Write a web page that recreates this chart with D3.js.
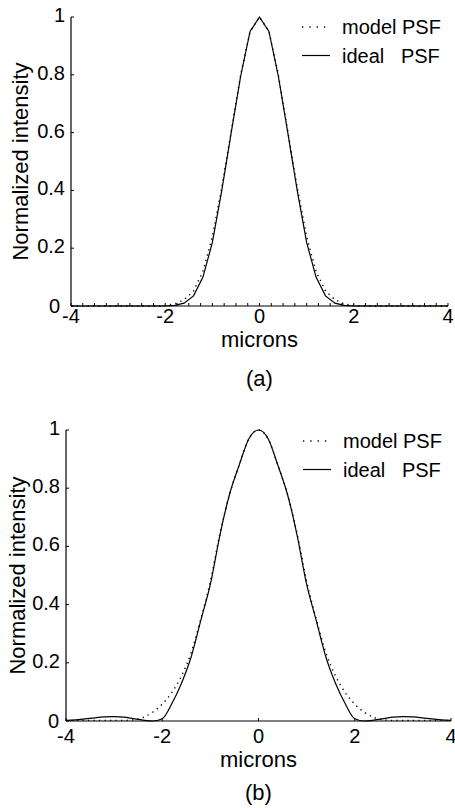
<!DOCTYPE html>
<html>
<head>
<meta charset="utf-8">
<script src="https://cdn.jsdelivr.net/npm/d3@7"></script>
<style>
  body { margin: 0; background: #fff; }
  svg { display: block; font-family: "Liberation Sans", Arial, sans-serif; }
</style>
</head>
<body>
<div id="container"></div>
<script>
// sample positions (microns)
var xs = [-4, -3.8, -3.6, -3.4, -3.2, -3, -2.8, -2.6, -2.4, -2.2, -2, -1.8, -1.6, -1.4, -1.2, -1, -0.8, -0.6, -0.4, -0.2,
          0, 0.2, 0.4, 0.6, 0.8, 1, 1.2, 1.4, 1.6, 1.8, 2, 2.2, 2.4, 2.6, 2.8, 3, 3.2, 3.4, 3.6, 3.8, 4];

// panel (a)
var idealA = [0, 0, 0, 0, 0, 0, 0, 0, 0, 0, 0, 0.002, 0.01, 0.035, 0.10, 0.22, 0.40, 0.60, 0.795, 0.95,
              1, 0.95, 0.795, 0.60, 0.40, 0.22, 0.10, 0.035, 0.01, 0.002, 0, 0, 0, 0, 0, 0, 0, 0, 0, 0, 0];
var modelA = [0, 0, 0, 0, 0, 0, 0, 0, 0, 0, 0.002, 0.007, 0.022, 0.052, 0.12, 0.24, 0.41, 0.605, 0.80, 0.95,
              1, 0.95, 0.80, 0.605, 0.41, 0.24, 0.12, 0.052, 0.022, 0.007, 0.002, 0, 0, 0, 0, 0, 0, 0, 0, 0, 0];

// panel (b)
var idealB = [0.002, 0.004, 0.007, 0.011, 0.014, 0.015, 0.013, 0.008, 0.003, 0, 0.008, 0.06, 0.13, 0.22, 0.345, 0.47, 0.64, 0.78, 0.88, 0.97,
              1, 0.97, 0.88, 0.78, 0.64, 0.47, 0.345, 0.22, 0.13, 0.06, 0.008, 0, 0.003, 0.008, 0.013, 0.015, 0.014, 0.011, 0.007, 0.004, 0.002];
var modelB = [0.002, 0.002, 0.002, 0.002, 0.002, 0.002, 0.002, 0.004, 0.012, 0.03, 0.058, 0.098, 0.155, 0.235, 0.35, 0.48, 0.645, 0.78, 0.88, 0.97,
              1, 0.97, 0.88, 0.78, 0.645, 0.48, 0.35, 0.235, 0.155, 0.098, 0.058, 0.03, 0.012, 0.004, 0.002, 0.002, 0.002, 0.002, 0.002, 0.002, 0.002];

var xTicks = [-4, -2, 0, 2, 4];
var yTicks = [0, 0.2, 0.4, 0.6, 0.8, 1];
var legendNames = ["model PSF", "ideal   PSF"];

var svg = d3.select("#container").append("svg")
  .attr("width", 455)
  .attr("height", 808);

var panels = [
  { ideal: idealA, model: modelA, tag: "(a)", left: 71, right: 448, top: 17, bottom: 306, zeroShift: 5,
    minor: true, xLabDy: 16.5, micronsY: 346.5, tagY: 385.5, yLabX: 28, legY: 34, legX: 342, curve: d3.curveLinear },
  { ideal: idealB, model: modelB, tag: "(b)", left: 66, right: 451, top: 430, bottom: 721, zeroShift: 1,
    minor: false, xLabDy: 21.5, micronsY: 766.5, tagY: 799.5, yLabX: 25, legY: 448, legX: 343, curve: d3.curveMonotoneX }
];

panels.forEach(function(p) {
  var x = d3.scaleLinear().domain([-4, 4]).range([p.left, p.right]);
  var y = d3.scaleLinear().domain([0, 1]).range([p.bottom, p.top]);
  var g = svg.append("g");

  // axes: left and bottom only, ticks inward
  g.append("line").attr("x1", p.left).attr("x2", p.left).attr("y1", p.top).attr("y2", p.bottom)
    .attr("stroke", "#000").attr("stroke-width", 1.2);
  g.append("line").attr("x1", p.left).attr("x2", p.right).attr("y1", p.bottom).attr("y2", p.bottom)
    .attr("stroke", "#000").attr("stroke-width", 1.2);

  var tickX = p.minor ? d3.range(-4, 4.001, 0.25) : xTicks;
  g.selectAll(".xt").data(tickX).enter().append("line")
    .attr("x1", function(d) { return x(d); }).attr("x2", function(d) { return x(d); })
    .attr("y1", p.bottom).attr("y2", p.bottom - 3)
    .attr("stroke", "#000").attr("stroke-width", 1);
  g.selectAll(".yt").data(yTicks).enter().append("line")
    .attr("x1", p.left).attr("x2", p.left + 3)
    .attr("y1", function(d) { return y(d); }).attr("y2", function(d) { return y(d); })
    .attr("stroke", "#000").attr("stroke-width", 1);

  g.selectAll(".xl").data(xTicks).enter().append("text")
    .attr("x", function(d) { return x(d); })
    .attr("y", p.bottom + p.xLabDy)
    .attr("text-anchor", "middle")
    .attr("font-size", 20)
    .text(function(d) { return d; });
  // the "0" label sits a little left and lower, as in the original
  g.selectAll(".yl").data(yTicks).enter().append("text")
    .attr("x", function(d) { return d === 0 ? p.left - 6 - p.zeroShift : p.left - 6; })
    .attr("y", function(d) { return d === 0 ? y(d) + 7 : y(d) + 5; })
    .attr("text-anchor", "end")
    .attr("font-size", 20)
    .text(function(d) { return d; });

  g.append("text").attr("x", (p.left + p.right) / 2).attr("y", p.micronsY)
    .attr("text-anchor", "middle").attr("font-size", 22).text("microns");
  g.append("text").attr("x", x(0)).attr("y", p.tagY)
    .attr("text-anchor", "middle").attr("font-size", 22).text(p.tag);
  g.append("text")
    .attr("transform", "translate(" + p.yLabX + "," + ((p.top + p.bottom) / 2) + ") rotate(-90)")
    .attr("text-anchor", "middle").attr("font-size", 22).text("Normalized intensity");

  var line = d3.line()
    .x(function(d, i) { return x(xs[i]); })
    .y(function(d) { return y(d); })
    .curve(p.curve);

  g.append("path").attr("d", line(p.model))
    .attr("fill", "none").attr("stroke", "#000")
    .attr("stroke-width", 1.4).attr("stroke-dasharray", "1.3,4.2");
  g.append("path").attr("d", line(p.ideal))
    .attr("fill", "none").attr("stroke", "#000").attr("stroke-width", 1.2);

  // legend
  legendNames.forEach(function(name, i) {
    var ly = p.legY + i * 28.5;
    g.append("line").attr("x1", p.legX - 40).attr("x2", p.legX - 12)
      .attr("y1", ly - 7).attr("y2", ly - 7)
      .attr("stroke", "#000")
      .attr("stroke-width", i === 0 ? 1.4 : 1.2)
      .attr("stroke-dasharray", i === 0 ? "1.3,6" : null);
    g.append("text").attr("x", p.legX).attr("y", ly)
      .attr("font-size", 20)
      .style("white-space", "pre")
      .text(name);
  });
});
</script>
</body>
</html>
